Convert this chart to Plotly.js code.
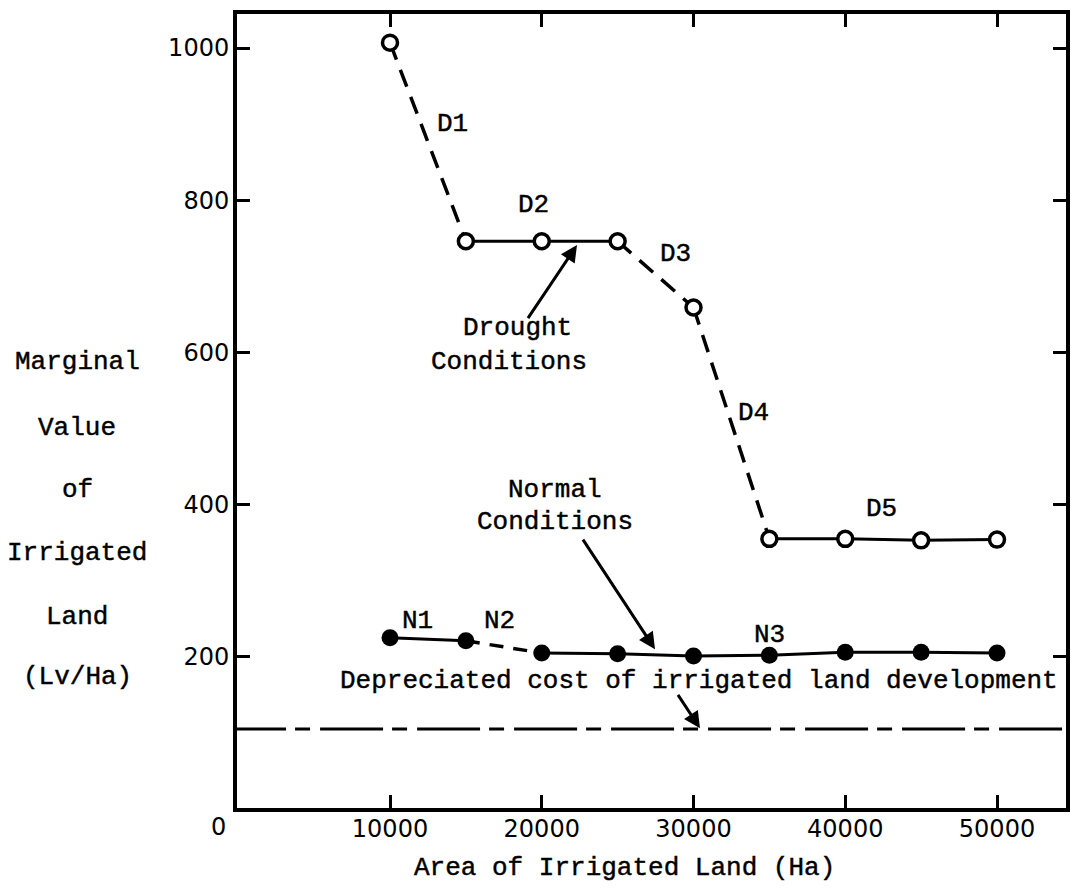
<!DOCTYPE html>
<html>
<head>
<meta charset="utf-8">
<script src="https://cdn.plot.ly/plotly-3.0.1.min.js"></script>
<style>
  html, body { margin: 0; padding: 0; background: #fff; }
  #chart { width: 1071px; height: 889px; }
  /* typewriter lettering is a little heavier than the stock mono face */
  #chart .annotation-text { stroke: #000; stroke-width: 0.45px; }
  /* the origin numeral stays in the plain tick-label weight */
  #chart g.annotation:last-of-type .annotation-text { stroke: none; }
</style>
</head>
<body>
<div id="chart"></div>
<script>
// Area of irrigated land (Ha) at each evaluated point
const areaHa = [10000, 15000, 20000, 25000, 30000, 35000, 40000, 45000, 50000];

// Marginal value of irrigated land (Lv/Ha)
const droughtValue = [1007, 746, 746, 746, 659, 355, 355, 353, 354];
const normalValue  = [225, 221, 205, 204, 201, 202, 206, 206, 205];

// Style of the link joining point i to point i+1
const droughtLinks = ['dash', 'solid', 'solid', 'dash', 'dash', 'solid', 'solid', 'solid'];
const normalLinks  = ['solid', 'dash', 'solid', 'solid', 'solid', 'solid', 'solid', 'solid'];

// Depreciated cost of irrigated land development (Lv/Ha)
const depreciatedCost = 105;
const costSpan = [-1000, 60000];

// Axis ticks
const xTickVals = [10000, 20000, 30000, 40000, 50000];
const xTickText = ['10000', '20000', '30000', '40000', '50000'];
const yTickVals = [200, 400, 600, 800, 1000];
const yTickText = ['200', '400', '600', '800', '1000'];

// Segment labels
const droughtSegLabels = [
  { text: 'D1', x: 14086, y: 900 },
  { text: 'D2', x: 19431, y: 794 },
  { text: 'D3', x: 28846, y: 729 },
  { text: 'D4', x: 33986, y: 520 },
  { text: 'D5', x: 42421, y: 394 }
];
const normalSegLabels = [
  { text: 'N1', x: 11845, y: 247 },
  { text: 'N2', x: 17183, y: 247 },
  { text: 'N3', x: 35025, y: 229 }
];

const yTitleLines = ['Marginal', 'Value', 'of', 'Irrigated', 'Land', '(Lv/Ha)'];
const xTitle = 'Area of Irrigated Land (Ha)';

const MONO = 'Liberation Mono, Courier New, monospace';
const SANS = 'DejaVu Sans, sans-serif';

// Split a polyline into one trace per link style, with gaps between runs
function linkTraces(xs, ys, links, dashPattern) {
  const byStyle = {};
  links.forEach((style, i) => {
    if (!byStyle[style]) byStyle[style] = { x: [], y: [] };
    const s = byStyle[style];
    s.x.push(xs[i], xs[i + 1], null);
    s.y.push(ys[i], ys[i + 1], null);
  });
  return Object.keys(byStyle).map(style => ({
    type: 'scatter',
    mode: 'lines',
    x: byStyle[style].x,
    y: byStyle[style].y,
    connectgaps: false,
    hoverinfo: 'skip',
    showlegend: false,
    line: {
      color: '#000',
      width: style === 'dash' ? 3.5 : 3,
      dash: style === 'dash' ? dashPattern : 'solid'
    }
  }));
}

const traces = [];

// Depreciated cost line (long dash / short dash)
traces.push({
  type: 'scatter', mode: 'lines',
  x: costSpan, y: [depreciatedCost, depreciatedCost],
  hoverinfo: 'skip', showlegend: false,
  line: { color: '#000', width: 3, dash: '63px,9px,15px,10px' }
});

traces.push(...linkTraces(areaHa, droughtValue, droughtLinks, '18px,11px'));
traces.push(...linkTraces(areaHa, normalValue, normalLinks, '14px,10px'));

// Drought conditions: open circles
traces.push({
  type: 'scatter', mode: 'markers',
  x: areaHa, y: droughtValue,
  showlegend: false,
  marker: { symbol: 'circle', size: 15, color: '#fff', line: { color: '#000', width: 3.5 } }
});

// Normal conditions: filled circles
traces.push({
  type: 'scatter', mode: 'markers',
  x: areaHa, y: normalValue,
  showlegend: false,
  marker: { symbol: 'circle', size: 17, color: '#000', line: { color: '#000', width: 0 } }
});

const annotations = [];

function label(text, x, y, extra) {
  return Object.assign({
    text: text, x: x, y: y, xref: 'x', yref: 'y',
    showarrow: false, xanchor: 'center', yanchor: 'middle',
    font: { family: MONO, size: 26, color: '#000' }
  }, extra || {});
}

droughtSegLabels.forEach(d => annotations.push(label(d.text, d.x, d.y)));
normalSegLabels.forEach(d => annotations.push(label(d.text, d.x, d.y)));

annotations.push(label('Drought', 18386, 632));
annotations.push(label('Conditions', 17858, 587));
annotations.push(label('Normal', 20865, 419));
annotations.push(label('Conditions', 20865, 377));
annotations.push(label('Depreciated cost of irrigated land development', 30343, 168));

// Pointer arrows
function arrow(tailX, tailY, headX, headY) {
  return {
    x: headX, y: headY, ax: tailX, ay: tailY,
    xref: 'x', yref: 'y', axref: 'x', ayref: 'y',
    text: '', showarrow: true,
    arrowhead: 2, arrowsize: 1.1, arrowwidth: 3, arrowcolor: '#000',
    standoff: 0, startstandoff: 0
  };
}
annotations.push(arrow(19028, 643, 22323, 741));
annotations.push(arrow(22652, 356, 27463, 210));
annotations.push(arrow(28913, 152, 30428, 106));

// Axis titles
const yTitleY = [0.5617, 0.4786, 0.4005, 0.3212, 0.2406, 0.1650];
yTitleLines.forEach((t, i) => annotations.push({
  text: t, xref: 'paper', yref: 'paper', x: -0.193, y: yTitleY[i],
  showarrow: false, xanchor: 'center', yanchor: 'middle',
  font: { family: MONO, size: 26, color: '#000' }
}));
annotations.push({
  text: xTitle, xref: 'paper', yref: 'paper', x: 0.468, y: -0.0756,
  showarrow: false, xanchor: 'center', yanchor: 'middle',
  font: { family: MONO, size: 26, color: '#000' }
});

// Origin label (kept last so it keeps the plain weight)
annotations.push({
  text: '0', xref: 'paper', yref: 'paper', x: -0.0229, y: -0.024,
  showarrow: false, xanchor: 'center', yanchor: 'middle',
  font: { family: SANS, size: 24, color: '#000' }
});

const axisCommon = {
  showgrid: false, zeroline: false,
  showline: true, linecolor: '#000', linewidth: 4,
  mirror: 'ticks', ticks: 'inside', ticklen: 13, tickwidth: 3, tickcolor: '#000',
  tickfont: { family: SANS, size: 24, color: '#000' },
  fixedrange: true
};

const layout = {
  width: 1071, height: 889,
  margin: { l: 237, r: 5, t: 14, b: 81 },
  paper_bgcolor: '#fff', plot_bgcolor: '#fff',
  showlegend: false,
  xaxis: Object.assign({}, axisCommon, {
    range: [-82, 54547],
    tickmode: 'array', tickvals: xTickVals, ticktext: xTickText,
    ticklabelstandoff: -4
  }),
  yaxis: Object.assign({}, axisCommon, {
    range: [1.3, 1044.7],
    tickmode: 'array', tickvals: yTickVals, ticktext: yTickText,
    ticklabelstandoff: -1
  }),
  annotations: annotations
};

Plotly.newPlot('chart', traces, layout, { displayModeBar: false, staticPlot: true });
</script>
</body>
</html>
